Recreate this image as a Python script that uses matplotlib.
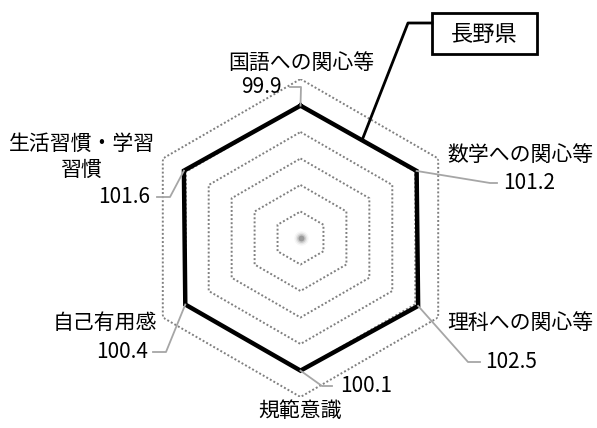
import numpy as np
import matplotlib
matplotlib.use("Agg")
import matplotlib.pyplot as plt
from matplotlib.patches import Rectangle

plt.rcParams['font.family'] = ['Noto Sans CJK JP', 'DejaVu Sans']

# data (clockwise from the top)
categories = ["国語への関心等", "数学への関心等", "理科への関心等",
              "規範意識", "自己有用感", "生活習慣・学習\n習慣"]
values = [99.9, 101.2, 102.5, 100.1, 100.4, 101.6]
value_labels = ["99.9", "101.2", "102.5", "100.1", "100.4", "101.6"]
ring_levels = [20, 40, 60, 80, 100, 120]
series_name = "長野県"

# layout in image pixels (x from left, y from top)
W, H = 597, 428
CX, CY, RAD = 300.5, 238, 159

# leader line bends / ends and value-label anchors
leader_pts = [
    [(301, 87), (290, 87)],
    [(490, 183), (497, 183)],
    [(468, 362), (480, 362)],
    [(322, 386), (332, 386)],
    [(166, 352), (153, 352)],
    [(170, 197), (157, 197)],
]
value_pos = [(282, 87, 'right'), (503, 183, 'left'), (485, 362, 'left'),
             (340, 386, 'left'), (148, 352, 'right'), (150, 197, 'right')]
cat_pos = [(301, 63, 'center'), (447, 155, 'left'), (447, 323, 'left'),
           (300, 411, 'center'), (157, 323, 'right'), (82, 157, 'center')]

fig = plt.figure(figsize=(W / 100, H / 100), dpi=100)

ax = fig.add_axes([(CX - RAD) / W, (H - CY - RAD) / H, 2 * RAD / W, 2 * RAD / H],
                  projection='polar')
ax.set_theta_zero_location('N')
ax.set_theta_direction(-1)
ax.set_ylim(0, max(ring_levels))
ax.set_axis_off()
ax.patch.set_visible(False)

n = len(categories)
theta = np.arange(n) * 2 * np.pi / n
theta_c = np.append(theta, theta[0])

# dotted hexagon grid
for lvl in ring_levels:
    ax.plot(theta_c, [lvl] * (n + 1), color='#808080', lw=1.4,
            linestyle=(0, (1, 1.1)), zorder=1)

# data polygon
vals_c = values + values[:1]
ax.plot(theta_c, vals_c, color='black', lw=3.2, solid_joinstyle='miter', zorder=3)

# soft grey dot in the middle
for s, a in [(110, 0.05), (70, 0.1), (40, 0.2), (18, 0.4)]:
    ax.scatter([0], [0], s=s, color='#555555', alpha=a, lw=0, zorder=2)

# overlay in pixel coords for labels and leaders
ov = fig.add_axes([0, 0, 1, 1], zorder=5)
ov.set_xlim(0, W)
ov.set_ylim(H, 0)
ov.set_axis_off()
ov.patch.set_visible(False)


def to_px(t, r):
    return ov.transData.inverted().transform(ax.transData.transform((t, r)))


for i in range(n):
    vx, vy = to_px(theta[i], values[i])
    pts = [(vx, vy)] + leader_pts[i]
    xs, ys = zip(*pts)
    ov.plot(xs, ys, color='#a6a6a6', lw=1.3)
    tx, ty, ha = value_pos[i]
    ov.text(tx, ty, value_labels[i], fontsize=15, ha=ha, va='center')
    cx_, cy_, cha = cat_pos[i]
    ov.text(cx_, cy_, categories[i], fontsize=15, ha=cha, va='center',
            multialignment='center', linespacing=1.25)

# series name box with leader to the polygon edge
p0 = to_px(theta[0], values[0])
p1 = to_px(theta[1], values[1])
edge_pt = p0 + 0.53 * (p1 - p0)
ov.plot([432, 408, edge_pt[0]], [23, 23, edge_pt[1]], color='black', lw=2)
ov.add_patch(Rectangle((432, 13), 105, 41, fill=True, facecolor='white',
                       edgecolor='black', lw=2))
ov.text(484.5, 34, series_name, fontsize=16, ha='center', va='center')

fig.savefig('out.png', dpi=100)
